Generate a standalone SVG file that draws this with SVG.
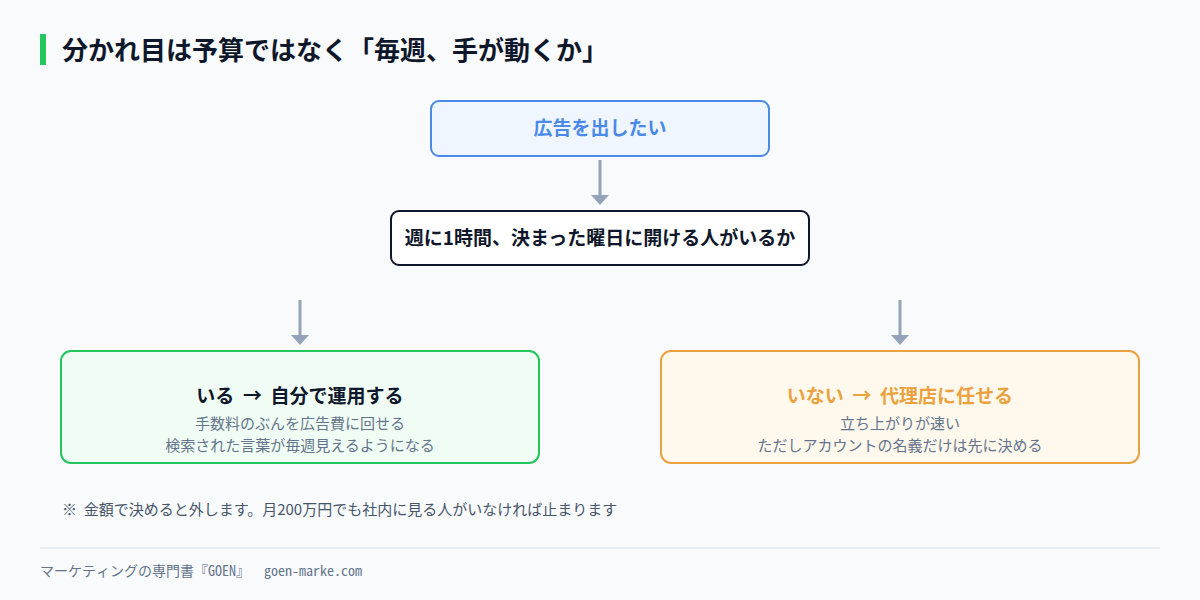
<svg xmlns="http://www.w3.org/2000/svg" width="1200" height="600" viewBox="0 0 1200 600">
  <defs>
    <style>
      .jp { font-family: "Noto Sans CJK JP", "Noto Sans", sans-serif; }
      .title { font-size: 26px; font-weight: 700; fill: #0f172a; }
      .node-text { font-size: 19px; font-weight: 700; text-anchor: middle; }
      .sub { font-size: 15px; fill: #64748b; text-anchor: middle; }
      .conn { stroke: #94a3b8; stroke-width: 3; fill: none; }
      .head { fill: #94a3b8; }
      .note { font-size: 15px; fill: #475569; }
      .footer { font-size: 14px; fill: #64748b; font-family: "Noto Sans Mono CJK JP", "DejaVu Sans Mono", "Noto Sans CJK JP", monospace; }
    </style>
  </defs>
  <rect x="0" y="0" width="1200" height="600" fill="#f8fafc"/>

  <g id="title">
    <rect x="40" y="34" width="6" height="31" fill="#22c55e"/>
    <text class="jp title" x="62" y="60">分かれ目は予算ではなく「毎週、手が動くか」</text>
  </g>

  <g id="connectors">
    <line class="conn" x1="600" y1="160" x2="600" y2="196"/>
    <polygon class="head" points="591,195 609,195 600,205"/>
    <line class="conn" x1="300" y1="300" x2="300" y2="336"/>
    <polygon class="head" points="291,335 309,335 300,345"/>
    <line class="conn" x1="900" y1="300" x2="900" y2="336"/>
    <polygon class="head" points="891,335 909,335 900,345"/>
  </g>

  <g id="node-start">
    <rect x="431" y="101" width="338" height="55" rx="8" fill="#eff6ff" stroke="#4a89e8" stroke-width="2"/>
    <text class="jp node-text" x="600" y="135" fill="#4a89e8">広告を出したい</text>
  </g>

  <g id="node-question">
    <rect x="391" y="211" width="418" height="54" rx="8" fill="#ffffff" stroke="#0f172a" stroke-width="2"/>
    <text class="jp node-text" x="600" y="245" fill="#0f172a">週に1時間、決まった曜日に開ける人がいるか</text>
  </g>

  <g id="node-yes">
    <rect x="61" y="351" width="478" height="112" rx="10" fill="#f0fdf4" stroke="#22c55e" stroke-width="2"/>
    <text class="jp node-text" x="300" y="403" fill="#0f172a" xml:space="preserve">いる  →  自分で運用する</text>
    <text class="jp sub" x="300" y="429">手数料のぶんを広告費に回せる</text>
    <text class="jp sub" x="300" y="451">検索された言葉が毎週見えるようになる</text>
  </g>

  <g id="node-no">
    <rect x="661" y="351" width="478" height="112" rx="10" fill="#fff8ed" stroke="#eba23e" stroke-width="2"/>
    <text class="jp node-text" x="900" y="403" fill="#eba23e" xml:space="preserve">いない  →  代理店に任せる</text>
    <text class="jp sub" x="900" y="429">立ち上がりが速い</text>
    <text class="jp sub" x="900" y="451">ただしアカウントの名義だけは先に決める</text>
  </g>

  <g id="note">
    <text class="jp note" x="62" y="515" xml:space="preserve">※  金額で決めると外します。月200万円でも社内に見る人がいなければ止まります</text>
  </g>

  <g id="footer">
    <line x1="40" y1="548" x2="1160" y2="548" stroke="#e2e8f0" stroke-width="1.5"/>
    <text class="footer" x="40" y="576" xml:space="preserve">マーケティングの専門書『GOEN』  goen-marke.com</text>
  </g>
</svg>
